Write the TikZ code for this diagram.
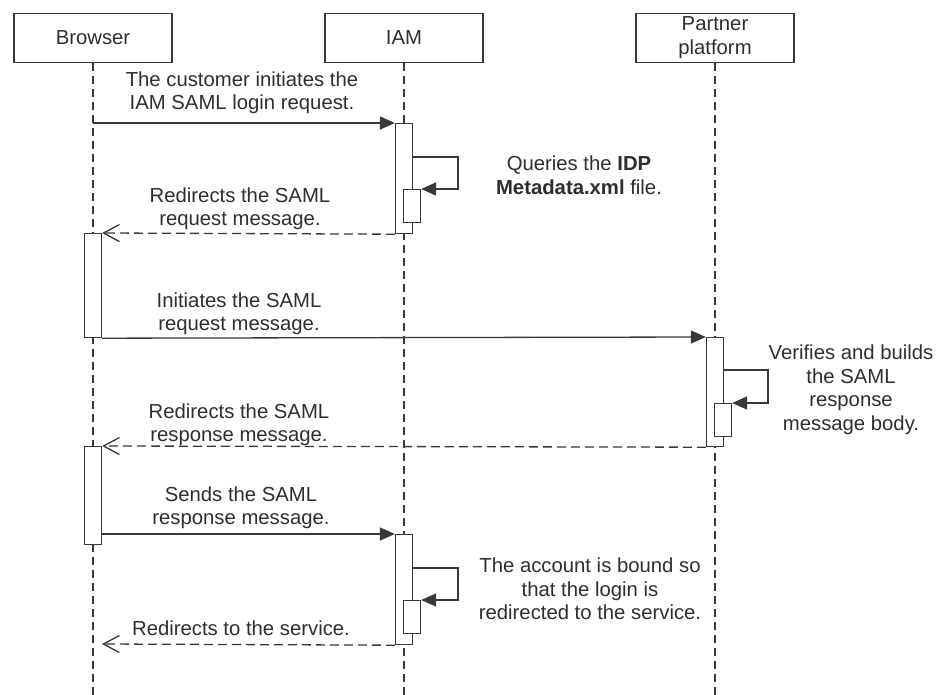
\documentclass[tikz,border=0pt]{standalone}
\usepackage{fontspec}
\setmainfont{Liberation Sans}
\usetikzlibrary{arrows.meta}
\definecolor{linegray}{HTML}{383838}
\definecolor{textgray}{HTML}{2E2E2E}
\begin{document}
\begin{tikzpicture}[x=1pt, y=-1pt,
        actor/.style={draw=linegray, line width=1.2pt, minimum width=158pt, minimum height=49pt, align=center, inner sep=0pt, text=textgray, font=\fontsize{20.3}{24}\selectfont},
        lifeline/.style={draw=linegray, line width=1.3pt, dash pattern=on 8pt off 5pt},
        actbar/.style={draw=linegray, fill=white, line width=1.2pt, minimum width=17pt, inner sep=0pt},
        msg/.style={draw=linegray, line width=1.3pt, -{Triangle[length=15pt,width=13pt]}},
        ret/.style={draw=linegray, line width=1.3pt, dash pattern=on 9pt off 5pt, -{Straight Barb[length=16pt,width=17pt]}},
        lbl/.style={align=center, text=textgray, inner sep=0pt, font=\fontsize{20.3}{23.5}\selectfont}]
        \useasboundingbox (0,0) rectangle (938,695);

        % participants
        \node[actor] (browser) at (93,38) {Browser};
        \node[actor] (iam) at (404,38) {IAM};
        \node[actor] (partner) at (715,38) {Partner\\platform};

        \coordinate (browserEnd) at (93,695);
        \coordinate (iamEnd) at (404,695);
        \coordinate (partnerEnd) at (715,695);
        \draw[lifeline] (browser.south) -- (browserEnd);
        \draw[lifeline] (iam.south) -- (iamEnd);
        \draw[lifeline] (partner.south) -- (partnerEnd);

        % activation bars
        \node[actbar, minimum height=110pt, anchor=north] (iam1) at (404,123) {};
        \node[actbar, minimum height=33pt, anchor=north] (iam1s) at (412,189) {};
        \node[actbar, minimum height=104pt, anchor=north] (br1) at (93,233) {};
        \node[actbar, minimum height=109pt, anchor=north] (pp1) at (715,337) {};
        \node[actbar, minimum height=33pt, anchor=north] (pp1s) at (723,403) {};
        \node[actbar, minimum height=98pt, anchor=north] (br2) at (93,446) {};
        \node[actbar, minimum height=110pt, anchor=north] (iam2) at (404,534) {};
        \node[actbar, minimum height=33pt, anchor=north] (iam2s) at (412,600) {};

        % messages
        \coordinate (m1start) at (93,123);
        \coordinate (r3end) at (102,644);
        \draw[msg] (m1start) -- (iam1.north west);
        \draw[msg] (iam1.east |- 0,157) -- ++(45,0) |- (iam1s.north east);
        \draw[ret] (iam1.south west) -- (br1.north east);
        \draw[msg] (br1.south east) -- (pp1.north west);
        \draw[msg] (pp1.east |- 0,370) -- ++(44,0) |- (pp1s.north east);
        \draw[ret] (pp1.south west) -- (br2.north east);
        \draw[msg] (iam2.north west -| br2.east) -- (iam2.north west);
        \draw[msg] (iam2.east |- 0,568) -- ++(45,0) |- (iam2s.north east);
        \draw[ret] (iam2.south west) -- (r3end);

        % labels
        \node[lbl] (m1lbl) at (242,93) {The customer initiates the\\IAM SAML login request.};
        \node[lbl] (q1lbl) at (579,175) {Queries the \textbf{IDP}\\\textbf{Metadata.xml} file.};
        \node[lbl] (r1lbl) at (240,209) {Redirects the SAML\\request message.};
        \node[lbl] (m2lbl) at (239,314) {Initiates the SAML\\request message.};
        \node[lbl] (q2lbl) at (851,390) {Verifies and builds\\the SAML\\response\\message body.};
        \node[lbl] (r2lbl) at (239,425) {Redirects the SAML\\response message.};
        \node[lbl] (m3lbl) at (241,508) {Sends the SAML\\response message.};
        \node[lbl] (q3lbl) at (590,589) {The account is bound so\\that the login is\\redirected to the service.};
        \node[lbl] (r3lbl) at (241,628) {Redirects to the service.};
    \end{tikzpicture}
\end{document}
